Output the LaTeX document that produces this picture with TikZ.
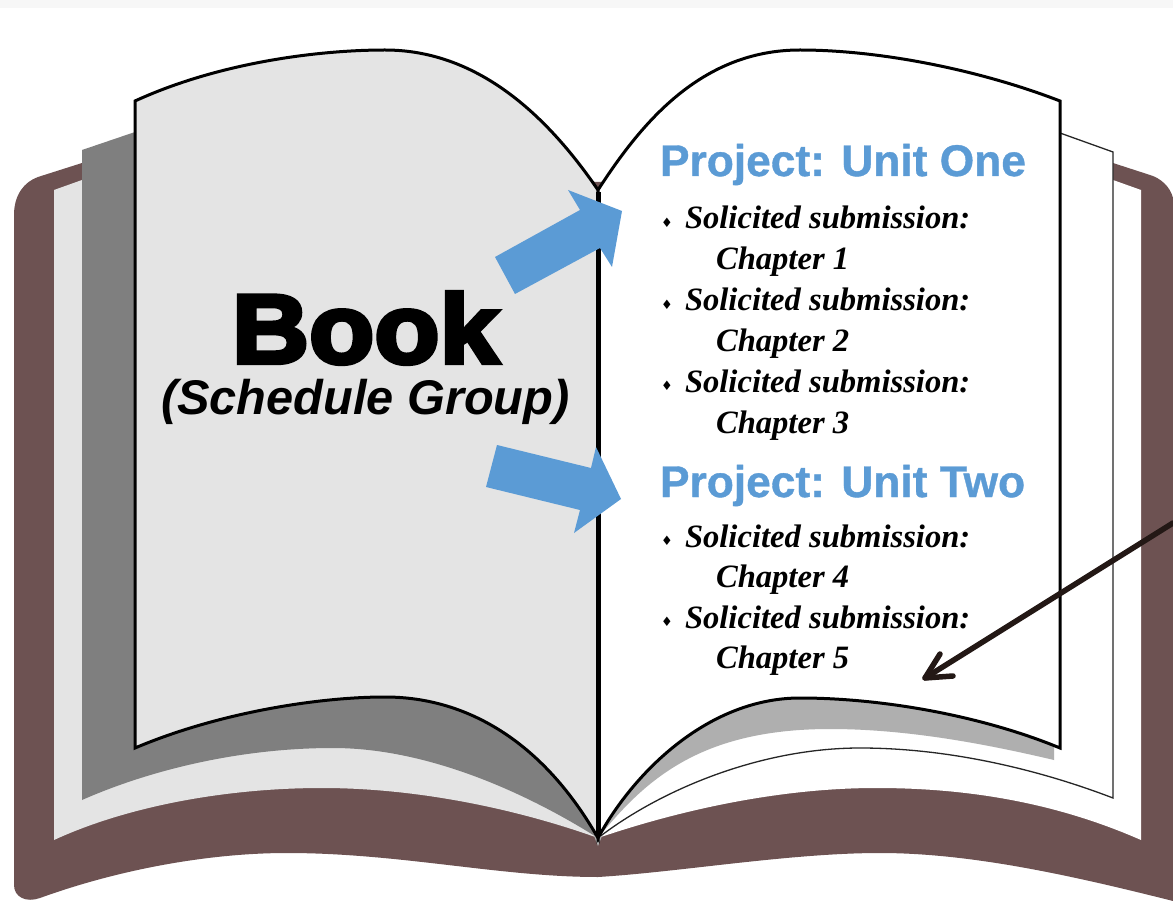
\documentclass[tikz,border=0pt]{standalone}
\usepackage{fontspec}
\setmainfont{Liberation Serif}
\newfontfamily\sansf[BoldFeatures={FakeBold=4.5,FakeStretch=1.09}]{Liberation Sans}
\newfontfamily\sansg{Liberation Sans}
\newfontfamily\sansu[BoldFeatures={FakeBold=0.8}]{Liberation Sans}
\newfontfamily\dejav{DejaVu Sans}
\definecolor{cover}{HTML}{6D5252}
\definecolor{pagegray}{HTML}{E4E4E4}
\definecolor{blockgray}{HTML}{7F7F7F}
\definecolor{bandgray}{HTML}{AFAFAF}
\definecolor{unitblue}{HTML}{5B9BD5}
\definecolor{pointer}{HTML}{231815}
\tikzset{
  pageedge/.style={draw=black,line width=3pt,line join=miter},
  thinedge/.style={draw=black!85,line width=1.3pt,fill=white},
  bluearrow/.style={fill=unitblue,draw=none},
  txt/.style={inner sep=0pt,outer sep=0pt,anchor=base west},
  unit/.style={txt,text=unitblue,font=\sansu\bfseries\fontsize{44.3}{44}\selectfont},
  item/.style={txt,text=black,font=\bfseries\itshape\fontsize{32.6}{33}\selectfont},
  bul/.style={inner sep=0pt,outer sep=0pt,anchor=center,font=\dejav\fontsize{13}{13}\selectfont},
  pointerline/.style={draw=pointer,line width=5.5pt,line cap=round,line join=round}
}
\begin{document}
\begin{tikzpicture}[x=1pt,y=-1pt]
\useasboundingbox (0,0) rectangle (1173,901);
\fill[white] (0,0) rectangle (1173,901);
\fill[black!3] (0,0) rectangle (1173,8);
% cover
\fill[cover] (82,163) -- (38,177) .. controls (24,182) and (14,195) .. (14,215) -- (14,885)
  .. controls (14,897) and (26,903) .. (40,898)
  .. controls (120,869) and (210,853) .. (287,853)
  .. controls (400,853) and (500,877) .. (598,877)
  .. controls (680,872) and (790,853) .. (880,853)
  .. controls (970,853) and (1070,875) .. (1173,901)
  -- (1173,198) .. controls (1170,186) and (1160,178) .. (1150,175) -- (1113,163)
  -- (1060,150) -- (598,182) -- (135,150) -- cycle;
% left under page
\fill[pagegray] (54,190) -- (82,180) -- (400,300) -- (598,838)
  .. controls (520,810) and (420,788) .. (322,788)
  .. controls (230,788) and (130,805) .. (54,840) -- cycle;
% left dark block
\fill[blockgray] (82,150) -- (135,132) -- (400,300) -- (598,838)
  .. controls (530,795) and (430,748) .. (333,748)
  .. controls (240,748) and (150,770) .. (82,800) -- cycle;
% right under page
\fill[white] (1113,180) -- (1141,190) -- (1141,840)
  .. controls (1050,800) and (960,788) .. (876,788)
  .. controls (780,788) and (680,810) .. (598,838) -- (800,300) -- cycle;
\path[thinedge] (1060,133) -- (1113,152) -- (1113,798)
  .. controls (1040,770) and (950,748) .. (860,748)
  .. controls (760,748) and (660,790) .. (598,838) -- (800,300) -- cycle;
% right band
\fill[bandgray] (1054,760)
  .. controls (990,745) and (910,729) .. (830,729)
  .. controls (700,729) and (645,780) .. (598,838)
  -- (640,765) -- (700,712) -- (800,690) -- (900,700) -- (1054,735) -- cycle;
% tip
\fill[bandgray] (594,836) -- (602,836) -- (598,846) -- cycle;
% left page
\path[pageedge,fill=pagegray] (135,101)
  .. controls (220,62) and (320,50) .. (385,50)
  .. controls (470,50) and (540,105) .. (598,190)
  -- (598,838)
  .. controls (545,745) and (470,697) .. (385,697)
  .. controls (320,697) and (220,712) .. (135,748) -- cycle;
% right page
\path[pageedge,fill=white] (598,190)
  .. controls (640,125) and (700,50) .. (800,50)
  .. controls (880,50) and (980,70) .. (1060,101)
  -- (1060,748)
  .. controls (980,715) and (880,698) .. (800,698)
  .. controls (710,698) and (635,770) .. (598,838) -- cycle;
% spine
\draw[black,line width=5pt] (598,192) -- (598,836);
% blue arrows
\fill[bluearrow] (495,257) -- (580,210) -- (568,190) -- (622,211) -- (612,267) -- (600,248) -- (515,294) -- cycle;
\fill[bluearrow] (497,445) -- (591,468) -- (596,447) -- (621,499) -- (574,533) -- (580,510) -- (486,487) -- cycle;
% left texts
\node[txt,font=\sansf\bfseries\fontsize{98}{98}\selectfont] (book) at (232,363) {Book};
\node[txt,font=\sansg\bfseries\itshape\fontsize{48.7}{46}\selectfont] (group) at (161,414) {(Schedule Group)};
% right texts
\node[unit] (unitone) at (660,176) {Project: Unit One};
\node[unit] (unittwo) at (660,497) {Project: Unit Two};
\node[bul] (b1) at (667,223) {♦};
\node[item] (s1) at (685,229) {Solicited submission:};
\node[item] (c1) at (716,270) {Chapter 1};
\node[bul] (b2) at (667,305) {♦};
\node[item] (s2) at (685,311) {Solicited submission:};
\node[item] (c2) at (716,352) {Chapter 2};
\node[bul] (b3) at (667,386) {♦};
\node[item] (s3) at (685,392) {Solicited submission:};
\node[item] (c3) at (716,433) {Chapter 3};
\node[bul] (b4) at (667,541) {♦};
\node[item] (s4) at (685,547) {Solicited submission:};
\node[item] (c4) at (716,587) {Chapter 4};
\node[bul] (b5) at (667,622) {♦};
\node[item] (s5) at (685,628) {Solicited submission:};
\node[item] (c5) at (716,668) {Chapter 5};
% pointer
\coordinate (src) at (1173,523);
\coordinate (tip) at (925,678);
\coordinate (barbA) at (940,654);
\coordinate (barbB) at (953,676);
\draw[pointerline] (src) -- (tip);
\draw[pointerline] (barbA) -- (tip) -- (barbB);
\end{tikzpicture}
\end{document}
